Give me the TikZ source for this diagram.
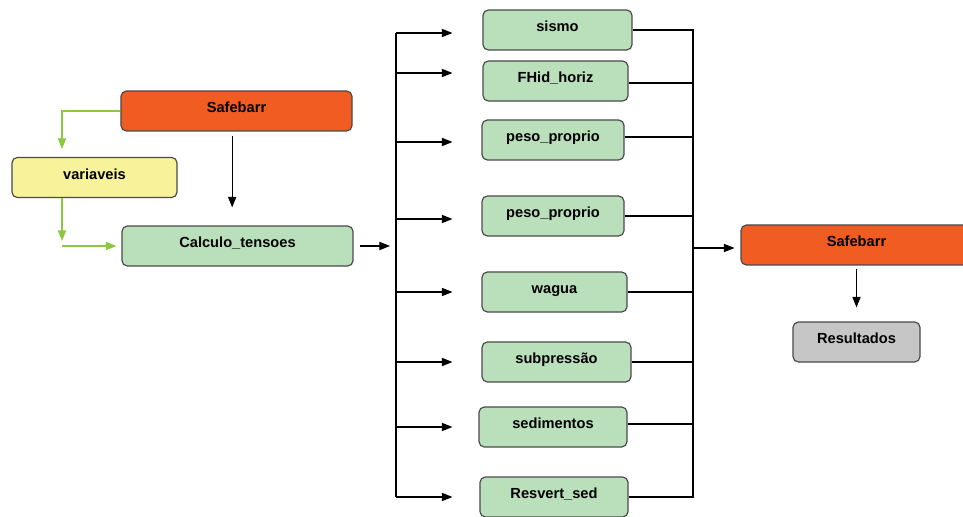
\documentclass[tikz,border=0pt]{standalone}
\usepackage{fontspec}
\setmainfont{Liberation Sans}
\usetikzlibrary{arrows.meta}
\definecolor{safeorange}{HTML}{F05C22}
\definecolor{varyellow}{HTML}{F8F39B}
\definecolor{modgreen}{HTML}{BADFBB}
\definecolor{resgray}{HTML}{C6C6C6}
\definecolor{boxline}{HTML}{4A4A4A}
\definecolor{flowgreen}{HTML}{8CC83F}
\begin{document}
\begin{tikzpicture}[x=0.03cm, y=-0.03cm,
  box/.style={draw=boxline, line width=1pt, rounded corners=0.16cm, minimum height=1.2cm, inner sep=0pt, text height=9pt, text depth=6pt, font=\fontsize{12.5}{14}\selectfont\bfseries},
  arr/.style={-{Triangle[length=9pt,width=7pt]}, line width=0.9pt},
  garr/.style={-{Triangle[length=9pt,width=7pt]}, draw=flowgreen, line width=1pt}]
\useasboundingbox (0,0) rectangle (963,517);
\clip (0,0) rectangle (963,517);
% Main program and its inputs
\node[box, fill=safeorange, minimum width=6.93cm] (safe1) at (236.5, 111) {Safebarr};
\node[box, fill=varyellow, minimum width=4.95cm] (var) at (94.5, 177.5) {variaveis};
\node[box, fill=modgreen, minimum width=6.93cm] (calc) at (237.5, 246) {Calculo\_tensoes};
% Load modules
\node[box, fill=modgreen, minimum width=4.47cm] (sismo) at (557.5, 30) {sismo};
\node[box, fill=modgreen, minimum width=4.35cm] (fhid) at (555.5, 81) {FHid\_horiz};
\node[box, fill=modgreen, minimum width=4.26cm] (peso1) at (553, 140) {peso\_proprio};
\node[box, fill=modgreen, minimum width=4.26cm] (peso2) at (553, 216) {peso\_proprio};
\node[box, fill=modgreen, minimum width=4.35cm] (wagua) at (554.5, 292) {wagua};
\node[box, fill=modgreen, minimum width=4.47cm] (subp) at (556.5, 362) {subpressão};
\node[box, fill=modgreen, minimum width=4.44cm] (sedim) at (553, 427) {sedimentos};
\node[box, fill=modgreen, minimum width=4.44cm] (resvert) at (554, 497) {Resvert\_sed};
% Output side
\node[box, fill=safeorange, minimum width=6.93cm] (safe2) at (856.5, 245) {Safebarr};
\node[box, fill=resgray, minimum width=3.81cm] (res) at (856.5, 342) {Resultados};
% Bus lines
\coordinate (gx) at (62, 0);
\coordinate (lbus) at (396, 0);
\coordinate (rbus) at (693, 0);
% Green connections to the input file
\draw[garr] (safe1.west) -| ([yshift=0.24cm]gx |- var.north);
\draw[garr] (gx |- var.south) -- ([yshift=0.15cm]gx |- calc.west);
\draw[garr] (gx |- calc.west) -- ([xshift=-0.15cm]calc.west);
\draw[arr] ([xshift=-0.13cm,yshift=-0.12cm]safe1.south) -- ([xshift=-0.13cm,yshift=0.54cm]safe1.south |- calc.north);
% Calculo_tensoes to the modules
\draw[arr] ([xshift=0.18cm]calc.east) -- ([xshift=-0.18cm]lbus |- calc.east);
\draw[line width=0.9pt] ([yshift=-0.09cm]lbus |- sismo.west) -- (lbus |- resvert.west);
\draw[arr] ([yshift=-0.09cm]lbus |- sismo.west) -- ([xshift=-0.9cm,yshift=-0.09cm]sismo.west);
\draw[arr] ([yshift=0.24cm]lbus |- fhid.west) -- ([xshift=-0.9cm,yshift=0.24cm]fhid.west);
\draw[arr] ([yshift=-0.06cm]lbus |- peso1.west) -- ([xshift=-0.87cm,yshift=-0.06cm]peso1.west);
\draw[arr] ([yshift=-0.09cm]lbus |- peso2.west) -- ([xshift=-0.87cm,yshift=-0.09cm]peso2.west);
\draw[arr] (lbus |- wagua.west) -- ([xshift=-0.87cm]wagua.west);
\draw[arr] (lbus |- subp.west) -- ([xshift=-0.87cm]subp.west);
\draw[arr] (lbus |- sedim.west) -- ([xshift=-0.78cm]sedim.west);
\draw[arr] (lbus |- resvert.west) -- ([xshift=-0.81cm]resvert.west);
% Modules back to Safebarr
\draw[line width=0.9pt] (sismo.east) -- (rbus |- sismo.east) -- (rbus |- resvert.east) -- (resvert.east);
\draw[line width=0.9pt] ([yshift=-0.06cm]fhid.east) -- ([yshift=-0.06cm]rbus |- fhid.east);
\draw[line width=0.9pt] ([yshift=0.09cm]peso1.east) -- ([yshift=0.09cm]rbus |- peso1.east);
\draw[line width=0.9pt] (peso2.east) -- (rbus |- peso2.east);
\draw[line width=0.9pt] (wagua.east) -- (rbus |- wagua.east);
\draw[line width=0.9pt] (subp.east) -- (rbus |- subp.east);
\draw[line width=0.9pt] ([yshift=0.09cm]sedim.east) -- ([yshift=0.09cm]rbus |- sedim.east);
\draw[arr] ([yshift=-0.09cm]rbus |- safe2.west) -- ([xshift=-0.18cm,yshift=-0.09cm]safe2.west);
\draw[arr] ([yshift=-0.09cm]safe2.south) -- ([yshift=0.42cm]res.north);
\end{tikzpicture}
\end{document}
